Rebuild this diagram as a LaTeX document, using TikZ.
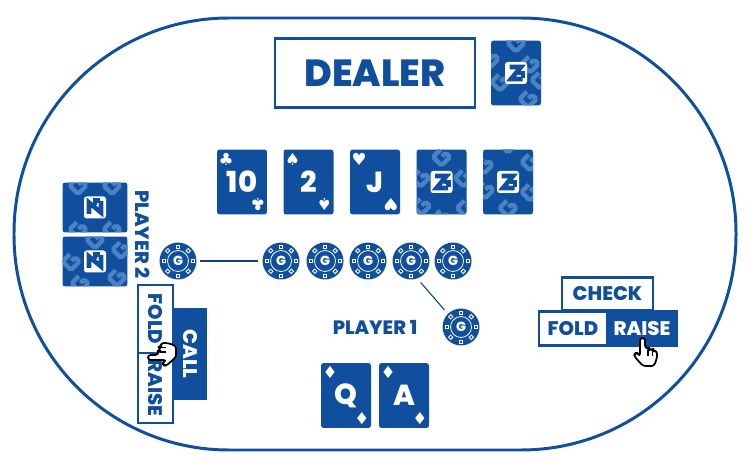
\documentclass[tikz,border=0pt]{standalone}
\usepackage{fontspec}
\setmainfont{Poppins}[BoldFont={Poppins ExtraBold}]
\newfontfamily\suitfont{DejaVu Sans}
\usetikzlibrary{positioning}
\definecolor{tableblue}{HTML}{0F4F9E}
\definecolor{markblue}{HTML}{4A82C4}
\tikzstyle{tableline} = [draw=tableblue, line width=1.7pt]
\tikzstyle{cardbox} = [rectangle, fill=tableblue, rounded corners=1.5pt, minimum width=1cm, minimum height=1.3cm, inner sep=0pt, text=white, font=\bfseries\fontsize{16.5}{16.5}\selectfont]
\tikzstyle{suitmark} = [inner sep=0pt, text=white, font=\suitfont\fontsize{9.5}{9.5}\selectfont]
\tikzstyle{chipdisc} = [circle, fill=tableblue, minimum size=0.74cm, inner sep=0pt, text=white, font=\bfseries\fontsize{7.5}{7.5}\selectfont]
\tikzstyle{chipline} = [draw=tableblue!80!black, line width=0.6pt]
\tikzstyle{plainbtn} = [rectangle, draw=tableblue, line width=1.6pt, fill=white, text=tableblue, inner sep=0pt, font=\bfseries\fontsize{11.2}{11.2}\selectfont]
\tikzstyle{solidbtn} = [plainbtn, fill=tableblue, text=white]
\tikzstyle{seatlabel} = [inner sep=0pt, text=tableblue, font=\bfseries\fontsize{11}{11}\selectfont]
\tikzset{
  backmark/.pic={\draw[markblue, line width=2.5pt, rounded corners=1pt] (5,-7) -- (-7,-7) -- (-7,7) -- (7,7) -- (7,0) -- (1,0);},
  pointhand/.pic={
    \draw[black, fill=white, line width=1pt, line join=round, rounded corners=1.5pt]
      (-6,-15) -- (-1,-15) -- (-1,-5) -- (3,-5) -- (3,-3) -- (7,-4) -- (7,-2) -- (11,-2) -- (11,5) -- (8,13)
      -- (-3,13) -- (-12,3) -- (-11,0) -- (-8,0) -- (-6,3) -- cycle;
    \draw[black, line width=0.7pt] (2,-3) -- (2,3) (6.5,-2) -- (6.5,3);
  }
}
% card back, centred at (x,y), turned by rot, with its list of marks
\newcommand{\backcard}[5]{
  \node[cardbox, rotate=#4] (#1) at (#2,#3) {};
  \begin{scope}[shift={(#2,#3)}, rotate=#4]
    \begin{scope}
      \clip[rounded corners=1.5pt] (-25,-32.5) rectangle (25,32.5);
      \foreach \mx/\my/\mr in {#5} {
        \pic[rotate=\mr, scale=0.85] at (\mx,\my) {backmark};
      }
    \end{scope}
    \fill[white, rounded corners=1.5pt] (-11,-11) rectangle (11,11);
    \draw[tableblue, line width=2.6pt, line join=miter] (-6.5,-6) -- (5,-6) -- (-5,6) -- (6.5,6);
    \draw[tableblue, line width=2.4pt] (2,0) -- (7,0) -- (7,5);
  \end{scope}
}
% card face with its rank and suit
\newcommand{\facecard}[5]{
  \node[cardbox] (#1) at (#2,#3) {#4};
  \begin{scope}[shift={(#2,#3)}]
    \node[suitmark] (#1-top) at (-16,-23) {#5};
    \node[suitmark, rotate=180] (#1-bot) at (16,23) {#5};
  \end{scope}
}
% chip with ring and dots
\newcommand{\chipmark}[3]{
  \node[chipdisc] (#1) at (#2,#3) {G};
  \begin{scope}[shift={(#2,#3)}]
    \draw[white, line width=0.45pt] (0,0) circle (10.5);
    \foreach \ang in {0,45,...,315} {
      \draw[white, line width=0.5pt, rotate=\ang] (13,-1.6) rectangle (16,1.6);
    }
  \end{scope}
}
\begin{document}
\begin{tikzpicture}[x=0.02cm, y=-0.02cm]
    \useasboundingbox (0,0) rectangle (750,469);

    % Table
    \draw[tableline, rounded corners=4.3cm] (14,18) rectangle (736,450);

    % Dealer
    \node[plainbtn, minimum width=4cm, minimum height=1.38cm, font=\bfseries\fontsize{21.5}{21.5}\selectfont] (dealerbox) at (375,73) {DEALER};
    \backcard{dealercard}{516}{73}{0}{0/-30/45, 14/-9/45, 24/7/45, -16/9/45, 12/26/45, -26/-14/45}

    % Community cards
    \facecard{flopa}{242}{182}{10}{♣}
    \facecard{flopb}{308.5}{182}{2}{♠}
    \facecard{flopc}{375}{182}{J}{♥}
    \backcard{turncard}{441.5}{182}{0}{0/-25/45, -21/-4/45, 22/-4/45, -20/24/45, 24/26/45, 0/36/45}
    \backcard{rivercard}{508}{182}{0}{-24/-17/45, 22/-20/45, 0/-38/45, -23/8/45, 22/10/45, 0/26/45}

    % Player 2
    \backcard{seatcarda}{95}{207.5}{90}{-22/-17/45, 22/-17/45, -22/17/45, 22/17/45}
    \backcard{seatcardb}{95}{261.5}{90}{-22/-15/45, 22/0/45, -16/22/45, 0/-24/45, 12/26/45}
    \node[seatlabel, rotate=-90] (seattwo) at (143,234.5) {PLAYER 2};
    \node[solidbtn, draw=none, rotate=-90, minimum width=1.84cm, minimum height=0.68cm] (callbtn) at (190,354) {CALL};
    \node[plainbtn, rotate=-90, minimum width=1.36cm, minimum height=0.7cm] (foldside) at (155.5,319) {FOLD};
    \node[plainbtn, rotate=-90, minimum width=1.4cm, minimum height=0.7cm] (raiseside) at (155.5,388) {RAISE};
    \pic[rotate=90] at (163,354) {pointhand};

    % Chips
    \chipmark{chipseat}{178}{261}
    \chipmark{chipa}{281}{261}
    \chipmark{chipb}{325}{261}
    \chipmark{chipc}{368}{261}
    \chipmark{chipd}{411}{261}
    \chipmark{chipe}{453}{261}
    \chipmark{chipone}{461}{327}
    \draw[chipline, shorten >=2.5pt, shorten <=2pt] (chipseat) -- (chipa);
    \draw[chipline, shorten >=2.8pt, shorten <=2.8pt] (chipd.-70) -- (chipone.135);

    % Player 1
    \node[seatlabel] (seatone) at (375,327) {PLAYER 1};
    \facecard{holea}{346}{395.5}{Q}{♦}
    \facecard{holeb}{404}{395.5}{A}{♦}

    % Buttons
    \node[plainbtn, minimum width=1.82cm, minimum height=0.66cm] (checkbtn) at (607.5,294) {CHECK};
    \node[plainbtn, minimum width=1.36cm, minimum height=0.68cm] (foldbtn) at (573,328.5) {FOLD};
    \node[solidbtn, minimum width=1.4cm, minimum height=0.68cm] (raisebtn) at (642,328.5) {RAISE};
    \pic at (646,353) {pointhand};

\end{tikzpicture}
\end{document}
